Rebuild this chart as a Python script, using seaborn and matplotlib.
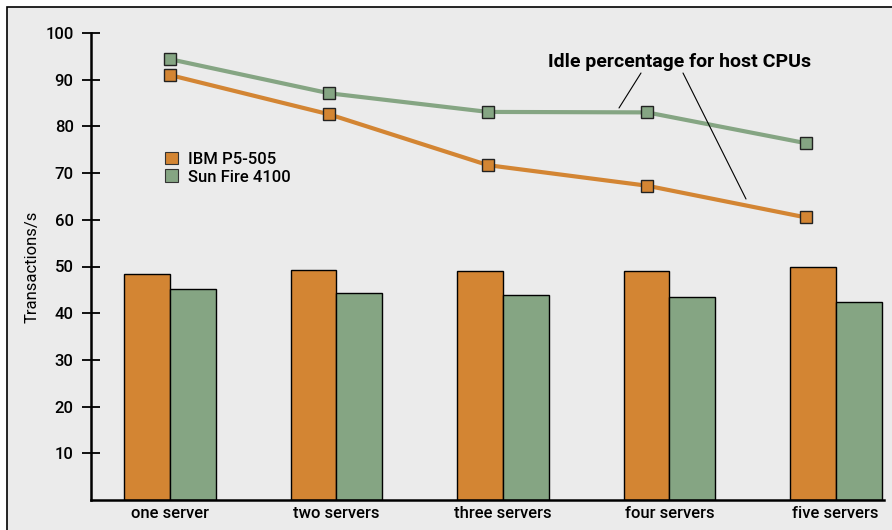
import numpy as np
import pandas as pd
import matplotlib
matplotlib.use("Agg")
import matplotlib.pyplot as plt
from matplotlib.patches import Rectangle
import seaborn as sns

# Datos
categories = ["one server", "two servers", "three servers", "four servers", "five servers"]
systems = ["IBM P5-505", "Sun Fire 4100"]
tps_ibm = [48.4, 49.3, 49.1, 49.1, 49.8]
tps_sun = [45.1, 44.4, 43.8, 43.5, 42.4]
idle_ibm = [91.0, 82.6, 71.7, 67.3, 60.5]
idle_sun = [94.4, 87.1, 83.1, 83.0, 76.4]
yticks = [10, 20, 30, 40, 50, 60, 70, 80, 90, 100]

ORANGE = "#d38533"
GREEN = "#85a583"
BG = "#ebebeb"

sns.set_style("white")
plt.rcParams["font.family"] = ["Liberation Sans Narrow", "Roboto", "DejaVu Sans"]
plt.rcParams["font.weight"] = "medium"
plt.rcParams["text.color"] = "black"
plt.rcParams["axes.labelcolor"] = "black"
plt.rcParams["xtick.color"] = "black"
plt.rcParams["ytick.color"] = "black"

bars = pd.DataFrame({
    "servers": categories * 2,
    "system": [systems[0]] * 5 + [systems[1]] * 5,
    "tps": tps_ibm + tps_sun,
})
idle = pd.DataFrame({
    "pos": list(range(5)) * 2,
    "system": [systems[0]] * 5 + [systems[1]] * 5,
    "idle": idle_ibm + idle_sun,
})

fig = plt.figure(figsize=(8.92, 5.30), dpi=100)
fig.patch.set_facecolor("white")
frame = Rectangle((7 / 892, -0.01), 1.0, 1 - 7 / 530 + 0.01,
                  transform=fig.transFigure, facecolor=BG,
                  edgecolor="black", linewidth=1.2, zorder=-10)
fig.add_artist(frame)

ax = fig.add_axes([91 / 892, 30 / 530, 793 / 892, 467 / 530])
ax.set_facecolor("none")
sns.barplot(data=bars, x="servers", y="tps", hue="system",
            palette=[ORANGE, GREEN], width=0.55, edgecolor="black",
            linewidth=1.0, saturation=1, ax=ax, legend=False)
ax.set_xlim(-0.475, 4.29)
ax.set_ylim(0, 100)
ax.set_yticks(yticks)
ax.set_yticklabels([str(t) for t in yticks], fontsize=12)
ax.tick_params(axis="y", left=True, direction="inout", length=13, width=1.3,
               pad=6, color="black")
ax.tick_params(axis="x", length=0, labelsize=12, pad=4)
ax.set_xlabel("")
ax.set_ylabel("Transactions/s", fontsize=12, labelpad=4)
for s in ["top", "right"]:
    ax.spines[s].set_visible(False)
for s in ["left", "bottom"]:
    ax.spines[s].set_linewidth(1.8)
    ax.spines[s].set_color("black")

# Líneas de porcentaje de inactividad (eje superpuesto)
ax2 = fig.add_axes(ax.get_position())
ax2.set_facecolor("none")
sns.lineplot(data=idle, x="pos", y="idle", hue="system",
             palette=[ORANGE, GREEN], linewidth=3, marker="s",
             markersize=9, markeredgecolor="#222222", markeredgewidth=1.0,
             ax=ax2, legend=False)
ax2.set_xlim(-0.496, 4.49)
ax2.set_ylim(0, 100)
ax2.axis("off")

# Leyenda
handles = [Rectangle((0, 0), 1, 1, facecolor=c, edgecolor="#333333", linewidth=0.8)
           for c in [ORANGE, GREEN]]
leg = ax.legend(handles, systems, loc="upper left", bbox_to_anchor=(0.085, 0.76),
                frameon=False, fontsize=12, handlelength=0.8, handleheight=0.8,
                handletextpad=0.6, labelspacing=0.15, borderaxespad=0)

# Anotación
fig.text(680 / 892, 1 - 62 / 530, "Idle percentage for host CPUs",
         ha="center", va="center", fontsize=14, fontweight="bold")
for (x0, y0), (x1, y1) in [((641, 73), (619, 108)), ((683, 73), (746, 199))]:
    fig.add_artist(plt.Line2D([x0 / 892, x1 / 892], [1 - y0 / 530, 1 - y1 / 530],
                              color="black", linewidth=0.8,
                              transform=fig.transFigure))

fig.savefig("out.png", dpi=100)
